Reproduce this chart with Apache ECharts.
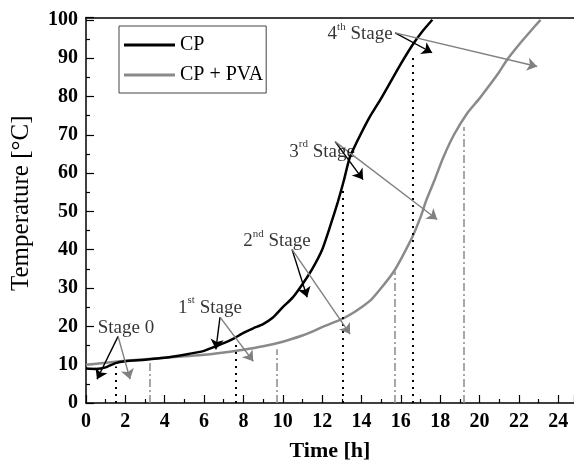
<!DOCTYPE html>
<html>
<head>
<meta charset="utf-8">
<title>Temperature vs time</title>
<script src="https://cdn.jsdelivr.net/npm/echarts@6/dist/echarts.min.js"></script>
<style>
    html, body { margin: 0; padding: 0; background: #fff; }
    #chart { width: 574px; height: 467px; }
</style>
</head>
<body>
<div id="chart"></div>
<script>
    //曲线数据
    var cpTime = [0, 0.5, 1, 1.5, 2, 3, 4, 5, 6, 6.6, 7, 7.5, 8, 8.5, 9, 9.5, 10, 10.5, 11, 11.5, 12, 12.4, 12.8, 13.1, 13.4, 13.8, 14.4, 15, 15.5, 16, 16.6, 17.1, 17.6];
    var cpTemp = [9, 8.9, 9.3, 10.4, 10.9, 11.3, 11.8, 12.6, 13.6, 14.8, 15.6, 16.8, 18.3, 19.5, 20.6, 22.3, 25, 27.5, 31, 35, 40, 46, 52.5, 58, 64, 68.5, 74.5, 79.5, 84, 88.5, 93.5, 97, 100];

    var pvaTime = [0, 1, 2, 3, 4, 5, 6, 7, 8, 9, 10, 11, 11.5, 12, 13, 13.5, 14, 14.5, 15, 15.6, 16, 16.6, 17, 17.3, 17.7, 18.15, 18.7, 19.4, 20, 20.4, 21, 21.4, 22, 22.5, 23.1];
    var pvaTemp = [10, 10.5, 11, 11.4, 11.8, 12.2, 12.6, 13.2, 13.9, 14.8, 16, 17.6, 18.6, 19.8, 21.9, 23.3, 25, 27, 30, 34, 37.5, 43.5, 48.5, 53, 58, 64, 70, 75.8, 79.5, 82.2, 86.4, 89.6, 93.5, 96.5, 100];

    //阶段分界线: 时间, 线顶温度
    var cpStageTime = [1.5, 7.6, 13.05, 16.6];
    var cpStageTop = [9.5, 15.5, 56, 90.4];
    var pvaStageTime = [3.25, 9.7, 15.7, 19.2];
    var pvaStageTop = [11, 14, 34.4, 72];

    //标注文字及位置
    var stageNames = ["Stage 0", "1st Stage", "2nd Stage", "3rd Stage", "4th Stage"];
    var stageLabelTime = [2.03, 6.3, 9.7, 12.0, 13.93];
    var stageLabelTemp = [20, 25.3, 42.7, 66, 96.6];

    //箭头: 起点 -> CP终点 / PVA终点
    var arrowFromTime = [1.63, 6.81, 10.47, 12.66, 15.71];
    var arrowFromTemp = [17.4, 22.4, 40.1, 68.2, 96.6];
    var arrowCpTime = [0.56, 6.6, 11.24, 14.08, 17.59];
    var arrowCpTemp = [6.2, 14, 27.6, 58.3, 91.4];
    var arrowPvaTime = [2.24, 8.5, 13.42, 17.85, 22.93];
    var arrowPvaTemp = [6.2, 10.9, 18.0, 47.9, 87.8];

    var xTicks = [0, 2, 4, 6, 8, 10, 12, 14, 16, 18, 20, 22, 24];

    var serif = "Liberation Serif";

    function zip(a, b) {
        var out = [];
        for (var i = 0; i < a.length; i++) {
            out.push([a[i], b[i]]);
        }
        return out;
    }

    function stageLines(times, tops) {
        var out = [];
        for (var i = 0; i < times.length; i++) {
            out.push([{ coord: [times[i], 0] }, { coord: [times[i], tops[i]] }]);
        }
        return out;
    }

    function arrowLines(endTimes, endTemps) {
        var out = [];
        for (var i = 0; i < endTimes.length; i++) {
            out.push([{ coord: [arrowFromTime[i], arrowFromTemp[i]] }, { coord: [endTimes[i], endTemps[i]] }]);
        }
        return out;
    }

    //把 1st 之类转成上标
    function stageText(name) {
        var m = name.match(/^(\d)(st|nd|rd|th) (.*)$/);
        if (!m) {
            return "{a|" + name + "}";
        }
        return "{a|" + m[1] + "}{s|" + m[2] + "}{a| " + m[3] + "}";
    }

    var labelData = [];
    for (var i = 0; i < stageNames.length; i++) {
        labelData.push({ value: [stageLabelTime[i], stageLabelTemp[i]], name: stageNames[i] });
    }

    var option = {
        backgroundColor: "#fff",
        animation: false,
        grid: {
            left: 86,
            right: 0,
            top: 17.5,
            bottom: 63,
            containLabel: false
        },
        legend: {
            data: ["CP", "CP + PVA"],
            orient: "vertical",
            left: 119,
            top: 26,
            icon: "rect",
            itemWidth: 51,
            itemHeight: 3,
            itemGap: 10,
            padding: [9, 3, 8, 5],
            borderColor: "#444",
            borderWidth: 1,
            textStyle: { fontFamily: serif, fontSize: 20, color: "#000" }
        },
        xAxis: [{
            type: "value",
            min: 0,
            max: 24.8,
            interval: 2,
            name: "Time [h]",
            nameLocation: "middle",
            nameGap: 37,
            nameTextStyle: { fontFamily: serif, fontSize: 22, fontWeight: "bold", color: "#000" },
            axisLine: { lineStyle: { color: "#000", width: 1.5 } },
            axisTick: { inside: true, length: 8, lineStyle: { color: "#000", width: 1.2 } },
            minorTick: { show: true, splitNumber: 2, length: 4, lineStyle: { color: "#000", width: 1.2 } },
            axisLabel: {
                margin: 9,
                fontFamily: serif,
                fontSize: 20,
                fontWeight: "bold",
                color: "#000",
                showMaxLabel: false,
                formatter: function (v) {
                    return xTicks.indexOf(v) >= 0 ? String(v) : "";
                }
            },
            splitLine: { show: false }
        }, {
            type: "value",
            position: "top",
            min: 0,
            max: 24.8,
            axisLine: { show: true, lineStyle: { color: "#000", width: 1.5 } },
            axisTick: { show: false },
            axisLabel: { show: false },
            splitLine: { show: false }
        }],
        yAxis: {
            type: "value",
            min: 0,
            max: 100.6,
            interval: 10,
            name: "Temperature [°C]",
            nameLocation: "middle",
            nameGap: 52,
            nameTextStyle: { fontFamily: serif, fontSize: 25, color: "#000", padding: [0, 0, 0, 14] },
            axisLine: { show: true, lineStyle: { color: "#000", width: 1.5 } },
            axisTick: { inside: true, length: 8, lineStyle: { color: "#000", width: 1.2 } },
            minorTick: { show: true, splitNumber: 2, length: 4, lineStyle: { color: "#000", width: 1.2 } },
            axisLabel: {
                margin: 8,
                fontFamily: serif,
                fontSize: 20,
                fontWeight: "bold",
                color: "#000",
                showMaxLabel: false,
                formatter: function (v) {
                    return v % 10 === 0 ? String(v) : "";
                }
            },
            splitLine: { show: false }
        },
        series: [
            {
                name: "CP",
                type: "line",
                data: zip(cpTime, cpTemp),
                symbol: "none",
                smooth: 0.2,
                lineStyle: { color: "#000", width: 2.5 },
                itemStyle: { color: "#000" },
                z: 3,
                markLine: {
                    silent: true,
                    symbol: "none",
                    label: { show: false },
                    lineStyle: { color: "#000", type: [2, 5], width: 2 },
                    data: stageLines(cpStageTime, cpStageTop)
                }
            },
            {
                name: "CP + PVA",
                type: "line",
                data: zip(pvaTime, pvaTemp),
                symbol: "none",
                smooth: 0.2,
                lineStyle: { color: "#8a8a8a", width: 2.5 },
                itemStyle: { color: "#8a8a8a" },
                z: 2,
                markLine: {
                    silent: true,
                    symbol: "none",
                    label: { show: false },
                    lineStyle: { color: "#8a8a8a", type: [8, 3, 2, 3], width: 1.5 },
                    data: stageLines(pvaStageTime, pvaStageTop)
                }
            },
            {
                //箭头 (黑)
                name: "arrowsCp",
                type: "line",
                data: [],
                z: 4,
                markLine: {
                    silent: true,
                    symbol: ["none", "arrow"],
                    symbolSize: 10,
                    label: { show: false },
                    itemStyle: { color: "#000" },
                    lineStyle: { color: "#000", type: "solid", width: 1.4 },
                    data: arrowLines(arrowCpTime, arrowCpTemp)
                }
            },
            {
                //箭头 (灰)
                name: "arrowsPva",
                type: "line",
                data: [],
                z: 4,
                markLine: {
                    silent: true,
                    symbol: ["none", "arrow"],
                    symbolSize: 10,
                    label: { show: false },
                    itemStyle: { color: "#808080" },
                    lineStyle: { color: "#808080", type: "solid", width: 1.4 },
                    data: arrowLines(arrowPvaTime, arrowPvaTemp)
                }
            },
            {
                name: "stageLabels",
                type: "scatter",
                data: labelData,
                symbolSize: 0,
                silent: true,
                z: 5,
                label: {
                    show: true,
                    position: "inside",
                    formatter: function (p) {
                        return stageText(p.name);
                    },
                    rich: {
                        a: { fontFamily: serif, fontSize: 19, color: "#000", verticalAlign: "bottom", lineHeight: 22 },
                        s: { fontFamily: serif, fontSize: 11, color: "#000", verticalAlign: "top", lineHeight: 22, padding: [0, 0, 10, 0] }
                    }
                }
            }
        ]
    };

    var chart = echarts.init(document.getElementById("chart"), null, { renderer: "canvas" });
    chart.setOption(option);
</script>
</body>
</html>
